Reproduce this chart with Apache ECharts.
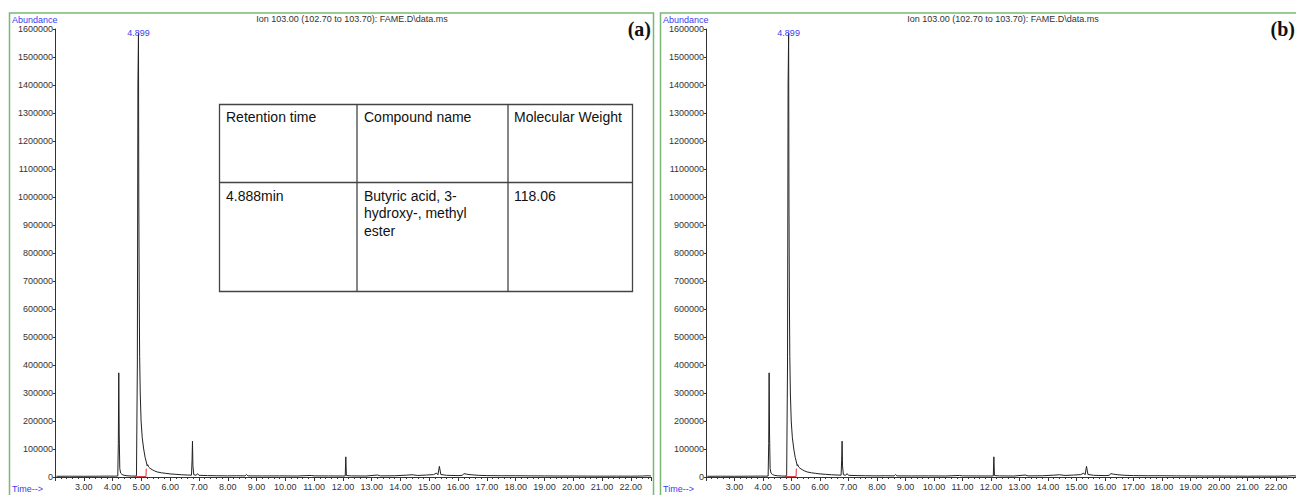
<!DOCTYPE html>
<html>
<head>
<meta charset="utf-8">
<script src="https://cdn.jsdelivr.net/npm/echarts@6/dist/echarts.min.js"></script>
<style>
  html, body { margin: 0; padding: 0; background: #fff; }
  #Chromatogram { width: 1296px; height: 495px; }
</style>
</head>
<body>
<div id="Chromatogram"></div>
<script>
// ion 103 trace (time in min, abundance)
const times = [
  2.05, 2.5, 3.0, 3.5, 3.9, 4.1, 4.18, 4.2, 4.215, 4.23, 4.25, 4.28, 4.33, 4.4, 4.5, 4.65, 4.8,
  4.83, 4.86, 4.88, 4.899, 4.91, 4.925, 4.94, 4.96, 4.99, 5.03, 5.08, 5.13, 5.18, 5.2, 5.22, 5.25,
  5.3, 5.38, 5.45, 5.55, 5.7, 5.85, 6.0, 6.2, 6.4, 6.6, 6.74, 6.76, 6.775, 6.79, 6.82, 6.9, 6.95,
  7.0, 7.3, 7.6, 8.0, 8.3, 8.6, 8.65, 8.7, 9.2, 9.8, 10.4, 10.9, 11.0, 11.5, 12.0, 12.08, 12.1,
  12.12, 12.3, 12.8, 13.2, 13.3, 13.8, 14.2, 14.4, 14.6, 14.9, 15.15, 15.25, 15.3, 15.35, 15.4,
  15.6, 16.0, 16.15, 16.2, 16.3, 16.45, 16.7, 17.0, 17.5, 18.0, 18.5, 19.0, 19.5, 20.0, 20.5,
  21.0, 21.5, 22.0, 22.4, 22.6, 22.7
];
const abundance = [
  2500, 2800, 2600, 2900, 3200, 3000, 3500, 120000, 372000, 150000, 30000, 14000, 9000, 6000, 4500, 3500, 3000,
  5000, 400000, 1400000, 1585000, 1000000, 650000, 430000, 300000, 200000, 140000, 100000, 70000, 50000, 40000, 44000, 36000,
  31000, 26000, 22000, 18000, 15000, 13000, 11000, 9500, 8000, 7000, 6500, 60000, 128000, 40000, 8000, 6000, 12000,
  6000, 5000, 4500, 4000, 4500, 4000, 9000, 4000, 3800, 4000, 3600, 5500, 4000, 3800, 3600, 4000, 72000,
  5000, 4000, 3500, 7000, 4000, 4500, 6500, 8000, 5500, 7000, 8500, 14000, 8000, 38000, 9000,
  6000, 5000, 6000, 12000, 10000, 8000, 6000, 5000, 4500, 4500, 4000, 3800, 3500, 3500, 3200,
  3000, 3200, 3000, 3500, 4500, 3500
];
// red integration baseline under the main peak
const baseTimes = [4.79, 4.79, 5.16, 5.17];
const baseAbundance = [6000, 1500, 1500, 30000];
const peakTime = 4.899;
const peakAbundance = 1585000;

const tableHead = ['Retention time', 'Compound name', 'Molecular Weight'];
const tableRow = ['4.888min', 'Butyric acid, 3-\nhydroxy-, methyl\nester', '118.06'];
const panelNames = ['(a)', '(b)'];
const titleText = 'Ion 103.00 (102.70 to 103.70): FAME.D\\data.ms';

const chart = echarts.init(document.getElementById('Chromatogram'), null, {renderer: 'svg'});

const FONT = '"Liberation Sans", Arial, sans-serif';
const PANEL_SHIFT = 651;
const GREEN = '#7ab873';
const BLUE = '#3c3cf0';

let trace = times.map((t, i) => [t, abundance[i]]);
let baseline = baseTimes.map((t, i) => [t, baseAbundance[i]]);

let grids = [], xAxes = [], yAxes = [], series = [], graphics = [];

panelNames.forEach((name, p) => {
  let dx = p * PANEL_SHIFT;
  grids.push({left: 55 + dx, top: 29, width: 596, height: 448});

  xAxes.push({
    type: 'value', gridIndex: p, min: 2, max: 22.7, interval: 1,
    axisLine: {lineStyle: {color: '#333', width: 1}},
    axisTick: {length: 4, lineStyle: {color: '#333'}},
    minorTick: {show: true, splitNumber: 5, length: 2, lineStyle: {color: '#333'}},
    splitLine: {show: false},
    axisLabel: {
      showMinLabel: false, showMaxLabel: false, margin: 5,
      color: '#333', fontSize: 9, fontFamily: FONT,
      formatter: (v) => v.toFixed(2)
    }
  });

  yAxes.push({
    type: 'value', gridIndex: p, min: 0, max: 1600000, interval: 100000,
    axisLine: {show: true, lineStyle: {color: '#333', width: 1}},
    axisTick: {show: true, length: 2, lineStyle: {color: '#333'}},
    splitLine: {show: false},
    axisLabel: {margin: 2, color: '#333', fontSize: 9, fontFamily: FONT, formatter: (v) => String(v)}
  });

  series.push({
    type: 'line', xAxisIndex: p, yAxisIndex: p, data: trace,
    showSymbol: false, silent: true,
    lineStyle: {color: '#222', width: 1},
    markPoint: {
      symbol: 'circle', symbolSize: 0,
      data: [{coord: [peakTime, peakAbundance]}],
      label: {show: true, position: 'inside', formatter: '4.899', color: BLUE, fontSize: 9, fontFamily: FONT}
    }
  });
  series.push({
    type: 'line', xAxisIndex: p, yAxisIndex: p, data: baseline,
    showSymbol: false, silent: true,
    lineStyle: {color: '#e03030', width: 1}
  });

  // panel frame and captions
  graphics.push({
    type: 'rect', shape: {x: 9.5 + dx, y: 13, width: 644, height: 520},
    style: {fill: 'none', stroke: GREEN, lineWidth: 1.5}, silent: true
  });
  graphics.push({
    type: 'text', x: 352 + dx, y: 19,
    style: {text: titleText, fill: '#333', font: '9px ' + FONT, align: 'center', verticalAlign: 'middle'}
  });
  graphics.push({
    type: 'text', x: 12 + dx, y: 20,
    style: {text: 'Abundance', fill: BLUE, font: '9px ' + FONT, align: 'left', verticalAlign: 'middle'}
  });
  graphics.push({
    type: 'text', x: 12 + dx, y: 489,
    style: {text: 'Time-->', fill: BLUE, font: '9px ' + FONT, align: 'left', verticalAlign: 'middle'}
  });
  graphics.push({
    type: 'text', x: Math.min(651 + dx, 1295), y: 29,
    style: {text: name, fill: '#111', font: 'bold 20px "Liberation Serif", serif', align: 'right', verticalAlign: 'middle'}
  });
});

// compound table, panel (a) only
const tab = {x: 219.5, y: 104.5, w: 413, h: 187, cols: [357, 508], row: 182.5};
graphics.push({
  type: 'rect', shape: {x: tab.x, y: tab.y, width: tab.w, height: tab.h},
  style: {fill: '#fff', stroke: '#444', lineWidth: 1.3}
});
tab.cols.forEach((cx) => {
  graphics.push({
    type: 'line', shape: {x1: cx, y1: tab.y, x2: cx, y2: tab.y + tab.h},
    style: {stroke: '#444', lineWidth: 1.3}
  });
});
graphics.push({
  type: 'line', shape: {x1: tab.x, y1: tab.row, x2: tab.x + tab.w, y2: tab.row},
  style: {stroke: '#444', lineWidth: 1.3}
});
let colX = [226, 364, 514];
tableHead.forEach((t, i) => {
  graphics.push({
    type: 'text', x: colX[i], y: 110,
    style: {text: t, fill: '#111', font: '14px ' + FONT, align: 'left', verticalAlign: 'top'}
  });
});
tableRow.forEach((t, i) => {
  graphics.push({
    type: 'text', x: colX[i], y: 187,
    style: {text: t, fill: '#111', font: '14px ' + FONT, lineHeight: 17.5, align: 'left', verticalAlign: 'top'}
  });
});

let option = {
  animation: false,
  backgroundColor: '#fff',
  grid: grids,
  xAxis: xAxes,
  yAxis: yAxes,
  series: series,
  graphic: graphics
};

chart.setOption(option);
</script>
</body>
</html>
